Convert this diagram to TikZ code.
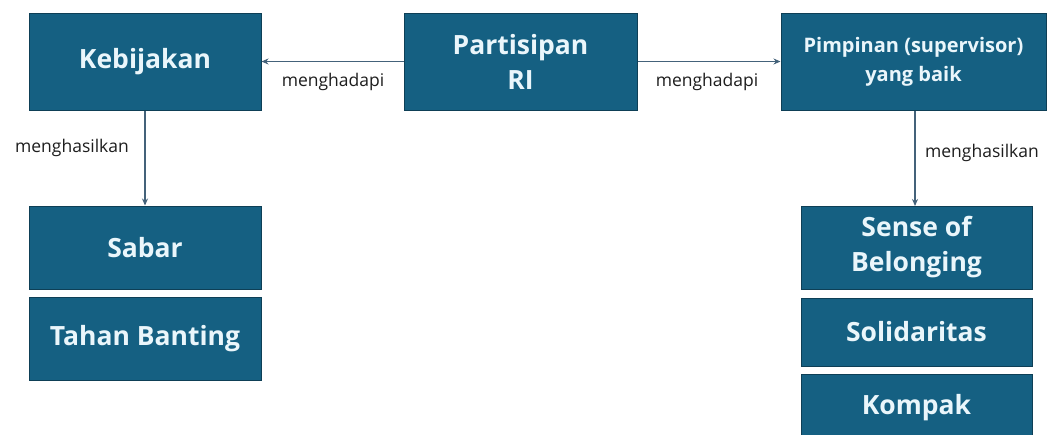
\documentclass[tikz,border=0pt]{standalone}
\usepackage{fontspec}
\setmainfont{Open Sans}
\usetikzlibrary{arrows.meta}
\definecolor{boxfill}{HTML}{156082}
\definecolor{boxline}{HTML}{0E3F56}
\definecolor{linkcol}{HTML}{44627A}
\definecolor{textcol}{HTML}{EAF6FB}
\definecolor{labelcol}{HTML}{1E1E1E}
\tikzset{
  box/.style={draw=boxline, line width=1pt, fill=boxfill, text=textcol,
    inner sep=0pt, align=center, font=\fontsize{26.5}{35}\selectfont\bfseries},
  smallbox/.style={box, font=\fontsize{20}{29}\selectfont\bfseries},
  link/.style={draw=linkcol, line width=1.5pt, -{Stealth[length=7pt,width=6pt]}},
  lbl/.style={text=labelcol, inner sep=0pt, font=\fontsize{17.5}{19}\selectfont}
}
\begin{document}
\begin{tikzpicture}[x=1pt, y=-1pt]
  \clip (0,0) rectangle (1048,434);
  \fill[white] (0,0) rectangle (1048,434);

  % top row
  \node[box, minimum width=232pt, minimum height=97pt] (keb) at (145,61.5) {Kebijakan};
  \node[box, minimum width=233pt, minimum height=97pt] (par) at (520.5,61.5) {Partisipan\\RI};
  \node[smallbox, minimum width=265pt, minimum height=97pt] (pim) at (913.5,61.5) {Pimpinan (supervisor)\\yang baik};

  % left column
  \node[box, minimum width=232pt, minimum height=83pt] (sab) at (145,247.5) {Sabar};
  \node[box, minimum width=232pt, minimum height=83pt] (tah) at (145,339) {Tahan Banting};

  % right column
  \node[box, minimum width=231pt, minimum height=83pt] (sen) at (916.5,247.5) {Sense of\\Belonging};
  \node[box, minimum width=231pt, minimum height=68pt] (sol) at (916.5,332) {Solidaritas};
  \node[box, minimum width=231pt, minimum height=68pt] (kom) at (916.5,408) {Kompak};

  % connectors
  \draw[link] (par.west) -- (keb.east);
  \draw[link] (par.east) -- (pim.west);
  \draw[link] (keb.south) -- (sab.north);
  \draw[link] (pim.south -| 915,0) -- (915,206);

  % connector labels
  \node[lbl] (l1) at (333,82) {menghadapi};
  \node[lbl] (l2) at (707,82) {menghadapi};
  \node[lbl] (l3) at (72,148) {menghasilkan};
  \node[lbl] (l4) at (982,153) {menghasilkan};
\end{tikzpicture}
\end{document}
